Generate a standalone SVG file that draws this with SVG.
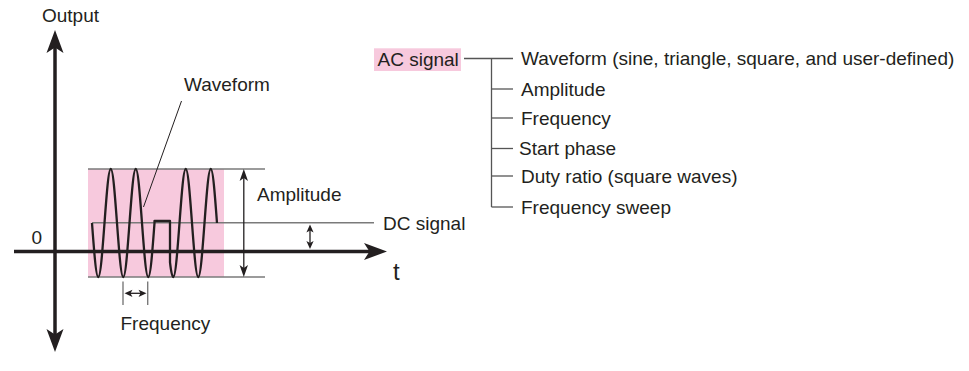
<svg xmlns="http://www.w3.org/2000/svg" width="969" height="371" viewBox="0 0 969 371">
<style>
text{font-family:"Liberation Sans",Arial,sans-serif;font-size:19px;fill:#231f20}
.ax{stroke:#231f20;stroke-width:3.5;fill:none}
.gl{stroke:#7a7a7a;stroke-width:1.4;fill:none}
.dim{stroke:#231f20;stroke-width:1.3;fill:none}
.tr{stroke:#555;stroke-width:1.3;fill:none}
.wave{stroke:#231f20;stroke-width:2.3;fill:none;stroke-linejoin:round}
</style>
<defs>
<marker id="big" markerUnits="userSpaceOnUse" viewBox="-24 -10 26 20" markerWidth="26" markerHeight="20" refX="-17" refY="0" orient="auto-start-reverse">
<path d="M0,0 L-23,-8.5 L-17.5,0 L-23,8.5 Z" fill="#231f20"/>
</marker>
<marker id="mid" markerUnits="userSpaceOnUse" viewBox="-14 -6 16 12" markerWidth="16" markerHeight="12" refX="-8" refY="0" orient="auto-start-reverse">
<path d="M0,0 L-12,-4.2 L-9,0 L-12,4.2 Z" fill="#231f20"/>
</marker>
<marker id="sm" markerUnits="userSpaceOnUse" viewBox="-10 -5 12 10" markerWidth="12" markerHeight="10" refX="-5" refY="0" orient="auto-start-reverse">
<path d="M0,0 L-8,-3.6 L-6,0 L-8,3.6 Z" fill="#231f20"/>
</marker>
</defs>

<g id="plot-area">
<rect x="88" y="169" width="136" height="108" fill="#f7c9dd"/>
<line class="gl" x1="88" y1="169" x2="265" y2="169"/>
<line class="gl" x1="88" y1="277" x2="265" y2="277"/>
<line class="gl" x1="92" y1="222.8" x2="374" y2="222.8"/>
</g>

<g id="axes">
<line class="ax" x1="55" y1="47" x2="55" y2="335" marker-start="url(#big)" marker-end="url(#big)"/>
<line class="ax" x1="14" y1="251.5" x2="370" y2="251.5" marker-end="url(#big)"/>
<text x="42" y="21.5">Output</text>
<text x="31.5" y="244">0</text>
<text x="393" y="280" style="font-size:24px">t</text>
</g>

<g id="waveform">
<path class="wave" d="M92,223
c2.04,27.66 3.99,54 6.25,54 c2.26,0 4.21,-26.34 6.25,-54
c2.04,-27.66 3.99,-54 6.25,-54 c2.26,0 4.21,26.34 6.25,54
c2.04,27.66 3.99,54 6.25,54 c2.26,0 4.21,-26.34 6.25,-54
c2.04,-27.66 3.99,-54 6.25,-54 c2.26,0 4.21,26.34 6.25,54
c2.04,27.66 3.99,54 6.25,54 c2.26,0 4.21,-26.34 6.25,-54
V221 H170 V262.4 c1.08,10 2.2,14.6 3.25,14.6
c2.26,0 4.21,-26.34 6.25,-54 c2.04,-27.66 3.99,-54 6.25,-54
c2.26,0 4.21,26.34 6.25,54 c2.04,27.66 3.99,54 6.25,54
c2.26,0 4.21,-26.34 6.25,-54 c2.04,-27.66 3.99,-54 6.25,-54
c2.26,0 4.21,26.34 6.25,54"/>
</g>

<g id="waveform-label">
<line x1="181.5" y1="101" x2="143.5" y2="207" stroke="#231f20" stroke-width="1"/>
<text x="184" y="90.7">Waveform</text>
</g>

<g id="amplitude">
<line class="dim" x1="243.8" y1="177" x2="243.8" y2="269" marker-start="url(#mid)" marker-end="url(#mid)"/>
<text x="257" y="200.5">Amplitude</text>
</g>

<g id="dc-signal">
<line class="dim" x1="310" y1="229.5" x2="310" y2="244" marker-start="url(#sm)" marker-end="url(#sm)"/>
<text x="383" y="230">DC signal</text>
</g>

<g id="frequency">
<line class="gl" x1="123" y1="281.5" x2="123" y2="305"/>
<line class="gl" x1="147.7" y1="281.5" x2="147.7" y2="305"/>
<line class="dim" x1="129.5" y1="293.3" x2="141.5" y2="293.3" marker-start="url(#sm)" marker-end="url(#sm)"/>
<text x="120.5" y="330">Frequency</text>
</g>

<g id="ac-signal">
<rect x="374" y="48.3" width="87" height="22.7" fill="#f7c9dd"/>
<text x="377.5" y="65.5">AC signal</text>
</g>

<g id="tree-connectors">
<line class="tr" x1="464" y1="58.5" x2="513" y2="58.5"/>
<line class="tr" x1="491.5" y1="58.5" x2="491.5" y2="207"/>
<line class="tr" x1="491.5" y1="89" x2="513" y2="89"/>
<line class="tr" x1="491.5" y1="118" x2="513" y2="118"/>
<line class="tr" x1="491.5" y1="148.5" x2="513" y2="148.5"/>
<line class="tr" x1="491.5" y1="176" x2="513" y2="176"/>
<line class="tr" x1="491.5" y1="207" x2="513" y2="207"/>
</g>

<g id="tree-items">
<text x="521" y="65.4">Waveform (sine, triangle, square, and user-defined)</text>
<text x="521" y="95.9">Amplitude</text>
<text x="521" y="124.9">Frequency</text>
<text x="519" y="155.4">Start phase</text>
<text x="521" y="182.9">Duty ratio (square waves)</text>
<text x="521" y="213.9">Frequency sweep</text>
</g>
</svg>
